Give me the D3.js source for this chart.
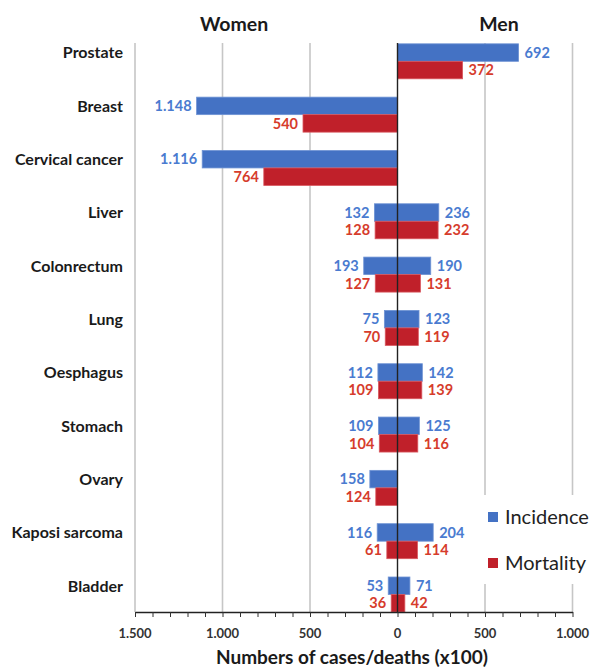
<!DOCTYPE html>
<html><head><meta charset="utf-8">
<script src="https://cdn.jsdelivr.net/npm/d3@7"></script>
<style>body{margin:0;background:#fff;} svg{display:block;}</style>
</head><body>
<script>
const categories = ["Prostate","Breast","Cervical cancer","Liver","Colonrectum","Lung","Oesphagus","Stomach","Ovary","Kaposi sarcoma","Bladder"];
const womenIncidence = [null,1148,1116,132,193,75,112,109,158,116,53];
const womenMortality = [null,540,764,128,127,70,109,104,124,61,36];
const menIncidence = [692,null,null,236,190,123,142,125,null,204,71];
const menMortality = [372,null,null,232,131,119,139,116,null,114,42];
const tickValues = [-1500,-1000,-500,0,500,1000];
const tickLabels = ["1.500","1.000","500","0","500","1.000"];
const seriesNames = ["Incidence","Mortality"];

(function(){
const W=590,H=668;
const FONT="Lato, 'Open Sans', sans-serif";
const BLUE="#4472C4", RED="#C0202A", BLUE_T="#4A7BD0", RED_T="#D63C2C";
const svg=d3.select("body").append("svg").attr("width",W).attr("height",H).style("font-family",FONT);

const x=d3.scaleLinear().domain([-1500,1000]).range([135,572.5]);
const y=d3.scaleBand().domain(categories).range([25.5,612]).padding(0);
const step=y.step(), bh=17.5;
const plotTop=43, plotBottom=612;
const fmt=v=>{const s=String(Math.abs(v));return s.length>3?s.slice(0,-3)+"."+s.slice(-3):s;};

svg.append("g").selectAll("line").data(tickValues.filter(d=>d!==0)).join("line")
 .attr("x1",d=>x(d)).attr("x2",d=>x(d)).attr("y1",plotTop).attr("y2",plotBottom)
 .attr("stroke","#c6c6c6").attr("stroke-width",1.6);

const rows=categories.map((c,i)=>({c,wi:womenIncidence[i],wm:womenMortality[i],mi:menIncidence[i],mm:menMortality[i]}));
const bars=[];
rows.forEach(r=>{
 if(r.wi!=null) bars.push({c:r.c,v:-r.wi,s:0});
 if(r.wm!=null) bars.push({c:r.c,v:-r.wm,s:1});
 if(r.mi!=null) bars.push({c:r.c,v:r.mi,s:0});
 if(r.mm!=null) bars.push({c:r.c,v:r.mm,s:1});
});
const by=d=>y(d.c)+step-35+(d.s?bh:0);
svg.append("g").selectAll("rect").data(bars).join("rect")
 .attr("x",d=>Math.min(x(0),x(d.v))).attr("width",d=>Math.abs(x(d.v)-x(0)))
 .attr("y",by).attr("height",bh)
 .attr("fill",d=>d.s?RED:BLUE).attr("stroke",d=>d.s?"#d9585f":"#6f93d4").attr("stroke-width",0.8);

svg.append("g").selectAll("text").data(bars).join("text")
 .attr("x",d=>d.v<0?x(d.v)-5:x(d.v)+6)
 .attr("y",d=>by(d)+bh/2).attr("dy","0.36em")
 .attr("text-anchor",d=>d.v<0?"end":"start")
 .attr("fill",d=>d.s?RED_T:BLUE_T).attr("font-size",14.5).attr("font-weight",700)
 .text(d=>fmt(d.v));

svg.append("line").attr("x1",x(0)).attr("x2",x(0)).attr("y1",plotTop).attr("y2",plotBottom)
 .attr("stroke","#222").attr("stroke-width",1.4);

const ax=svg.append("g").attr("transform",`translate(0,${plotBottom})`)
 .call(d3.axisBottom(x).tickValues(d3.range(-1500,1001,100)).tickSize(5).tickSizeOuter(0).tickFormat(""));
ax.select(".domain").attr("stroke","#222").attr("stroke-width",1.4);
ax.selectAll(".tick line").attr("stroke","#333");
svg.append("g").selectAll("text").data(tickValues).join("text")
 .attr("x",d=>x(d)).attr("y",638).attr("text-anchor","middle")
 .attr("font-size",13).attr("font-weight",700).attr("fill","#333")
 .text((d,i)=>tickLabels[i]);

svg.append("g").selectAll("text").data(categories).join("text")
 .attr("x",123).attr("y",c=>y(c)+step-35+bh/2).attr("dy","0.36em").attr("text-anchor","end")
 .attr("font-size",16).attr("font-weight",700).attr("fill","#1a1a1a").text(c=>c);

svg.append("text").attr("x",234).attr("y",31).attr("text-anchor","middle").attr("font-size",19.5).attr("font-weight",700).attr("fill","#1a1a1a").text("Women");
svg.append("text").attr("x",499).attr("y",31).attr("text-anchor","middle").attr("font-size",19.5).attr("font-weight",700).attr("fill","#1a1a1a").text("Men");
svg.append("text").attr("x",352).attr("y",664).attr("text-anchor","middle").attr("font-size",19).attr("font-weight",700).attr("fill","#1a1a1a").text("Numbers of cases/deaths (x100)");

const lg=svg.append("g");
lg.append("rect").attr("x",478).attr("y",495).attr("width",112).attr("height",89).attr("fill","#fff");
seriesNames.forEach((n,i)=>{
 const yy=517+i*46;
 lg.append("rect").attr("x",488).attr("y",yy-5).attr("width",10).attr("height",10).attr("fill",i?RED:BLUE);
 lg.append("text").attr("x",505).attr("y",yy).attr("dy","0.36em").attr("font-size",20).attr("fill","#222").text(n);
});
})();
</script>
</body></html>
